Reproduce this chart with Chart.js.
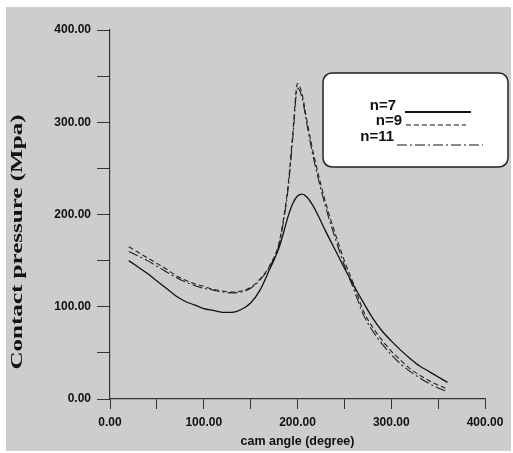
<!DOCTYPE html>
<html lang="en">
<head>
<meta charset="UTF-8">
<title>Contact pressure vs cam angle</title>
<script src="https://cdn.jsdelivr.net/npm/chart.js"></script>
<style>
  html, body { margin: 0; padding: 0; background: #fff; }
  #wrap { width: 513px; height: 453px; }
</style>
</head>
<body>
<div id="wrap"><canvas id="myChart" width="513" height="453"></canvas></div>
<script>
// cam angle (degree)
const angle = [20, 30, 40, 50, 60, 70, 80, 90, 100, 110, 120, 130, 140, 150, 160, 170, 180, 185, 190, 195,
               200, 205, 210, 215, 220, 230, 240, 250, 260, 270, 280, 290, 300, 310, 320, 330, 340, 350, 360];
// contact pressure (Mpa)
const n7  = [150, 143, 136, 128, 120, 112, 106, 102, 98, 96, 94, 94, 97, 104, 118, 140, 163, 180, 198, 212,
             220, 222, 219, 212, 203, 182, 162, 142, 123, 105, 88, 74, 63, 53, 44, 36, 30, 24, 18];
const n9  = [165, 159, 153, 147, 141, 134, 129, 125, 122, 119, 117, 116, 117, 121, 130, 144, 168, 195, 232, 288,
             342, 330, 302, 276, 253, 213, 180, 150, 124, 96, 78, 64, 52, 42, 33, 26, 20, 15, 11];
const n11 = [160, 155, 150, 144, 138, 132, 127, 123, 120, 118, 116, 115, 116, 120, 129, 143, 166, 192, 228, 283,
             337, 326, 298, 271, 248, 208, 175, 145, 119, 92, 74, 60, 48, 38, 30, 23, 17, 12, 8];
const seriesNames = ['n=7', 'n=9', 'n=11'];
const xTicks = [0, 100, 200, 300, 400];
const yTicks = [0, 100, 200, 300, 400];

function pts(ys) {
    return angle.map((a, i) => ({ x: a, y: ys[i] }));
}

// grey scanned background
const bgPlugin = {
    id: 'bg',
    beforeDraw(chart) {
        const c = chart.ctx;
        c.save();
        c.fillStyle = '#cdcdcd';
        c.fillRect(6, 7, chart.width - 8, chart.height - 9);
        c.restore();
    }
};

// rotated, stretched y title
const yTitlePlugin = {
    id: 'ytitle',
    afterDraw(chart) {
        const c = chart.ctx;
        const text = 'Contact pressure (Mpa)';
        c.save();
        c.font = 'bold 16px "Liberation Serif", "Times New Roman", serif';
        const w = c.measureText(text).width;
        c.translate(18, 242);
        c.rotate(-Math.PI / 2);
        c.scale(255 / w, 1);
        c.fillStyle = '#111';
        c.textAlign = 'center';
        c.textBaseline = 'middle';
        c.fillText(text, 0, 0);
        c.restore();
    }
};

// boxed legend in the upper right
const legendRows = [
    { tx: 396, ty: 106, x0: 405, x1: 471, ly: 112, lw: 2.2 },
    { tx: 402, ty: 121, x0: 406, x1: 466, ly: 125, lw: 1 },
    { tx: 394, ty: 137, x0: 397, x1: 483, ly: 145, lw: 1 }
];
const legendPlugin = {
    id: 'boxLegend',
    afterDraw(chart) {
        const c = chart.ctx;
        c.save();
        c.beginPath();
        c.roundRect(323, 73, 185, 94, 9);
        c.fillStyle = '#fff';
        c.fill();
        c.lineWidth = 1.5;
        c.strokeStyle = '#222';
        c.stroke();
        c.font = 'bold 15px "Liberation Sans", Arial, sans-serif';
        c.textAlign = 'right';
        c.textBaseline = 'middle';
        c.fillStyle = '#111';
        chart.data.datasets.forEach((ds, i) => {
            const r = legendRows[i];
            c.fillText(ds.label, r.tx, r.ty);
            c.beginPath();
            c.setLineDash(ds.borderDash || []);
            c.lineWidth = r.lw;
            c.strokeStyle = '#111';
            c.moveTo(r.x0, r.ly);
            c.lineTo(r.x1, r.ly);
            c.stroke();
        });
        c.restore();
    }
};

const tickFont = { family: '"Liberation Sans", Arial, sans-serif', size: 12, weight: 'bold' };

const ctx = document.getElementById('myChart');
const myChart = new Chart(ctx, {
    type: 'line',
    data: {
        datasets: [
            { label: seriesNames[0], data: pts(n7), borderColor: '#111', borderWidth: 1.3, borderDash: [] },
            { label: seriesNames[1], data: pts(n9), borderColor: '#222', borderWidth: 1.1, borderDash: [5, 3] },
            { label: seriesNames[2], data: pts(n11), borderColor: '#222', borderWidth: 1.1, borderDash: [10, 3, 2, 3] }
        ]
    },
    options: {
        responsive: false,
        animation: false,
        layout: { padding: { top: 30, right: 28, bottom: 4, left: 0 } },
        elements: {
            point: { radius: 0 },
            line: { cubicInterpolationMode: 'monotone', fill: false }
        },
        plugins: {
            legend: { display: false },
            tooltip: { enabled: false }
        },
        scales: {
            x: {
                type: 'linear',
                min: 0,
                max: 400,
                afterFit(s) { s.height = 50; },
                border: { color: '#333', width: 1.2 },
                grid: { drawOnChartArea: false, drawTicks: true, tickLength: 10, color: '#333' },
                ticks: {
                    stepSize: 50,
                    padding: 6,
                    color: '#111',
                    font: tickFont,
                    maxRotation: 0,
                    callback: v => xTicks.includes(v) ? v.toFixed(2) : ''
                },
                title: {
                    display: true,
                    text: 'cam angle (degree)',
                    color: '#111',
                    font: { family: '"Liberation Sans", Arial, sans-serif', size: 12.5, weight: 'bold' },
                    padding: { top: 0, bottom: 0 }
                }
            },
            y: {
                min: 0,
                max: 400,
                afterFit(s) { s.width = 110; },
                border: { color: '#333', width: 1.2 },
                grid: { drawOnChartArea: false, drawTicks: true, tickLength: 13, color: '#333' },
                ticks: {
                    stepSize: 50,
                    padding: 6,
                    color: '#111',
                    font: tickFont,
                    callback: v => yTicks.includes(v) ? v.toFixed(2) : ''
                }
            }
        }
    },
    plugins: [bgPlugin, yTitlePlugin, legendPlugin]
});
</script>
</body>
</html>
